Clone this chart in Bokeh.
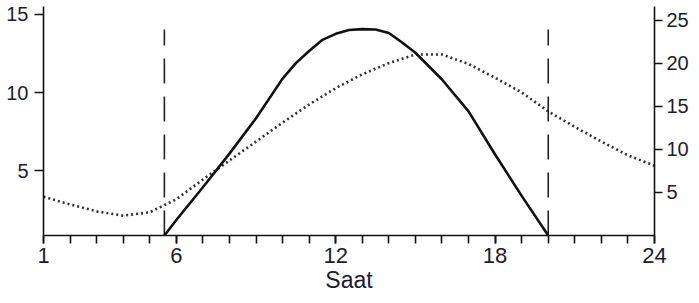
from bokeh.plotting import figure
from bokeh.models import Range1d, LinearAxis, FixedTicker
from bokeh.embed import file_html
from bokeh.resources import INLINE

# Solid curve (right-axis units)
solid_hours = [5.55, 6, 7, 8, 9, 10, 10.5, 11, 11.5, 12, 12.5, 13, 13.5, 14, 14.5, 15, 16, 17, 18, 19, 20]
solid_vals = [0, 1.8, 5.6, 9.5, 13.6, 18.2, 20.0, 21.4, 22.7, 23.4, 23.85, 23.95, 23.9, 23.5, 22.4, 21.2, 18.1, 14.4, 9.4, 4.6, 0]

# Dotted curve (right-axis units)
dot_hours = list(range(1, 25))
dot_vals = [4.5, 3.6, 2.8, 2.3, 2.7, 4.2, 6.5, 8.7, 10.9, 13.1, 15.2, 17.1, 18.7, 20.0, 21.0,
            21.0, 19.9, 18.3, 16.6, 14.4, 12.6, 10.9, 9.3, 8.1]

# Vertical dashed markers
marker_hours = [5.55, 20.0]
marker_top = 23.9

x_major = [1, 6, 12, 18, 24]
x_minor = list(range(1, 25))
left_ticks = [5, 10, 15]
right_ticks = [5, 10, 15, 20, 25]

FONT = "Liberation Sans"
LABEL_COLOR = "#1c1c30"

p = figure(width=691, height=295, output_backend="svg", toolbar_location=None,
           x_range=Range1d(1, 24), y_range=Range1d(0.86, 15.51),
           min_border_left=43, min_border_right=36, min_border_top=6, min_border_bottom=60)
p.outline_line_color = None
p.grid.grid_line_color = None
p.background_fill_color = "white"
p.border_fill_color = "white"
p.extra_y_ranges = {"right": Range1d(0, 26.57)}

# X axis
xa = p.xaxis[0]
xa.ticker = FixedTicker(ticks=x_major, minor_ticks=x_minor)
xa.major_label_overrides = {t: str(t) for t in x_major}
xa.axis_label = "Saat"
xa.major_tick_in = 0
xa.major_tick_out = 8
xa.minor_tick_in = 0
xa.minor_tick_out = 8
xa.major_label_standoff = 4
xa.axis_label_standoff = 1
xa.major_label_text_font = FONT
xa.major_label_text_font_size = "22px"
xa.major_label_text_color = LABEL_COLOR
xa.axis_label_text_font = FONT
xa.axis_label_text_font_size = "23px"
xa.axis_label_text_font_style = "normal"
xa.axis_label_text_color = LABEL_COLOR

# Left axis
ya = p.yaxis[0]
ya.ticker = FixedTicker(ticks=left_ticks, minor_ticks=[])
ya.major_tick_out = 9
ya.major_label_standoff = 6
# Right axis
yr = LinearAxis(y_range_name="right", ticker=FixedTicker(ticks=right_ticks, minor_ticks=[]))
p.add_layout(yr, "right")
yr.major_tick_out = 8
yr.major_label_standoff = 4

for ax in [ya, yr]:
    ax.major_tick_in = 0
    ax.minor_tick_in = 0
    ax.minor_tick_out = 0
    ax.major_label_text_font = FONT
    ax.major_label_text_font_size = "20px"
    ax.major_label_text_color = LABEL_COLOR

for ax in [xa, ya, yr]:
    ax.axis_line_width = 1.6
    ax.major_tick_line_width = 1.6
    ax.minor_tick_line_width = 1.6
    ax.axis_line_color = "#111111"
    ax.major_tick_line_color = "#111111"
    ax.minor_tick_line_color = "#111111"

# Dashed vertical markers
p.segment(x0=marker_hours, y0=[0, 0], x1=marker_hours, y1=[marker_top, marker_top],
          y_range_name="right", line_color="#222222", line_width=1.6, line_dash="25 13")

# Dotted curve
p.line(dot_hours, dot_vals, y_range_name="right", line_color="#333333",
       line_width=2.6, line_dash="2 3")

# Solid curve
p.line(solid_hours, solid_vals, y_range_name="right", line_color="#111111",
       line_width=2.6, line_join="round")

open("out.html", "w").write(file_html(p, INLINE))
